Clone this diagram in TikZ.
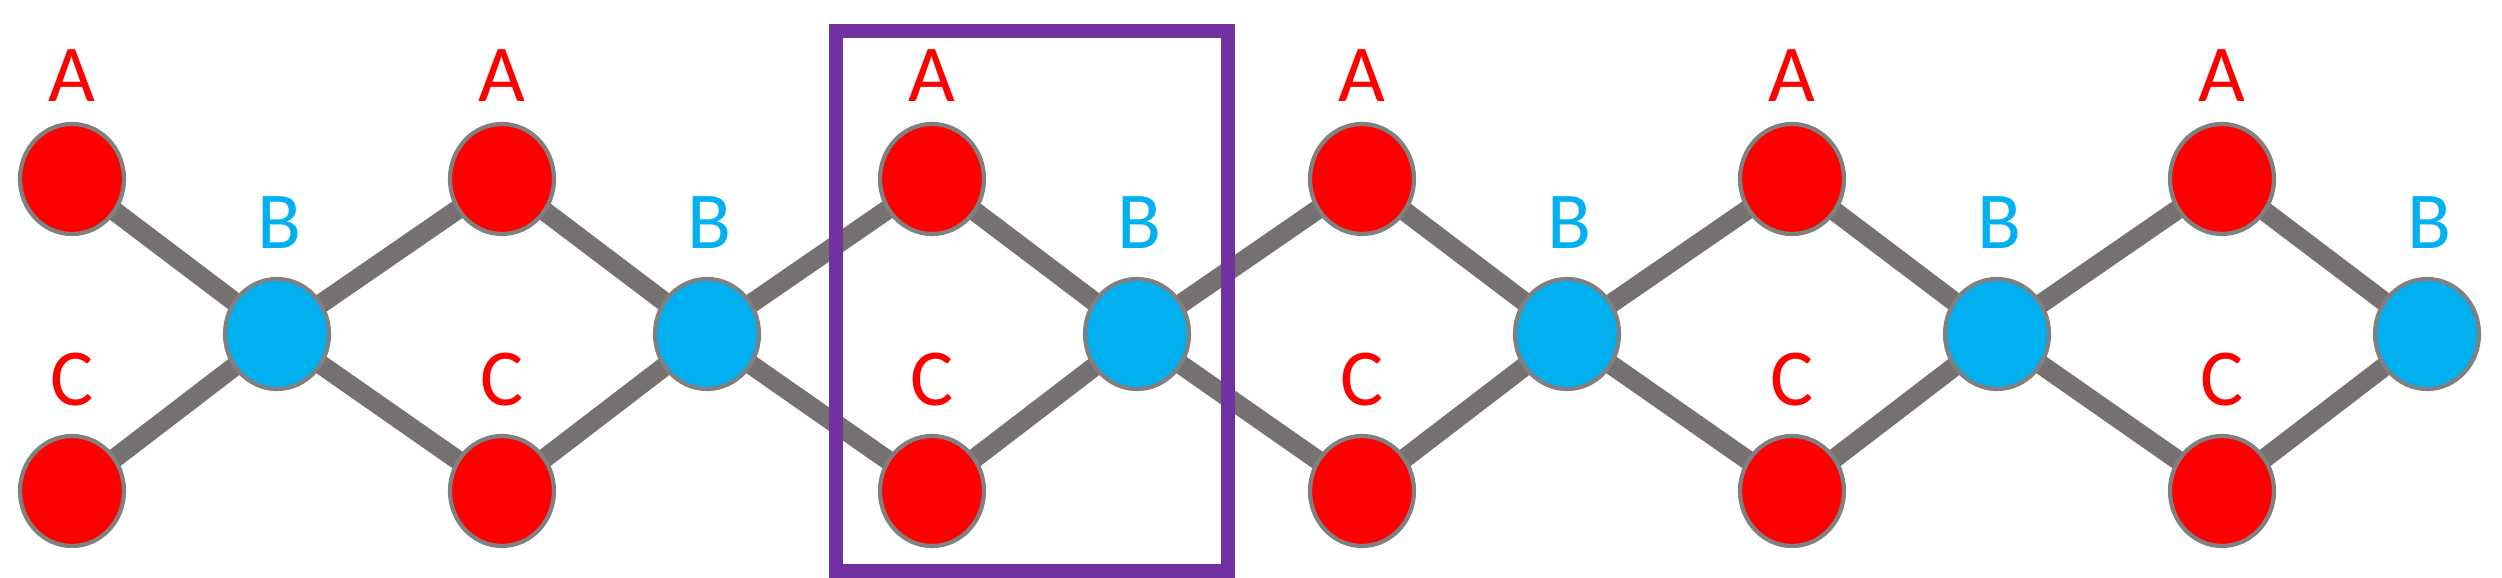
\documentclass[tikz,border=0pt]{standalone}
\usepackage{fontspec}
\setmainfont{Carlito}
\usetikzlibrary{shapes.geometric,backgrounds}
\definecolor{bondgray}{RGB}{118,113,113}
\definecolor{atomred}{RGB}{255,0,0}
\definecolor{atomblue}{RGB}{0,176,240}
\definecolor{cellpurple}{RGB}{112,48,160}
\begin{document}
\begin{tikzpicture}[
    redatom/.style={ellipse, draw=gray, line width=1.2pt, fill=atomred, minimum width=1.04cm, minimum height=1.1cm, inner sep=0pt},
    blueatom/.style={redatom, fill=atomblue},
    bondstyle/.style={line width=5.5pt, draw=bondgray},
    labelstyle/.style={font=\fontsize{23}{23}\selectfont}
]
    \useasboundingbox (0,0) rectangle (25.02,5.78);
    % atoms
    \foreach \i in {0,...,5} {
        \node[redatom] (A\i) at (0.72+4.3*\i,3.99) {};
        \node[redatom] (C\i) at (0.72+4.3*\i,0.87) {};
        \node[blueatom] (B\i) at (2.77+4.3*\i,2.44) {};
        \node[labelstyle, text=atomred] (LA\i) at (0.72+4.3*\i,5.02) {A};
        \node[labelstyle, text=atomred] (LC\i) at (0.72+4.3*\i,1.98) {C};
        \node[labelstyle, text=atomblue] (LB\i) at (2.79+4.3*\i,3.55) {B};
    }
    % bonds
    \begin{pgfonlayer}{background}
    \foreach \i in {0,...,5} {
        \draw[bondstyle] (A\i.center) -- (B\i.center);
        \draw[bondstyle] (C\i.center) -- (B\i.center);
    }
    \foreach \i [evaluate=\i as \j using int(\i+1)] in {0,...,4} {
        \draw[bondstyle] (B\i.center) -- (A\j.center);
        \draw[bondstyle] (B\i.center) -- (C\j.center);
    }
    \end{pgfonlayer}
    % unit cell
    \node[draw=cellpurple, line width=3.8pt, minimum width=3.92cm, minimum height=5.4cm, inner sep=0pt] (cell) at (10.32,2.77) {};
\end{tikzpicture}
\end{document}
